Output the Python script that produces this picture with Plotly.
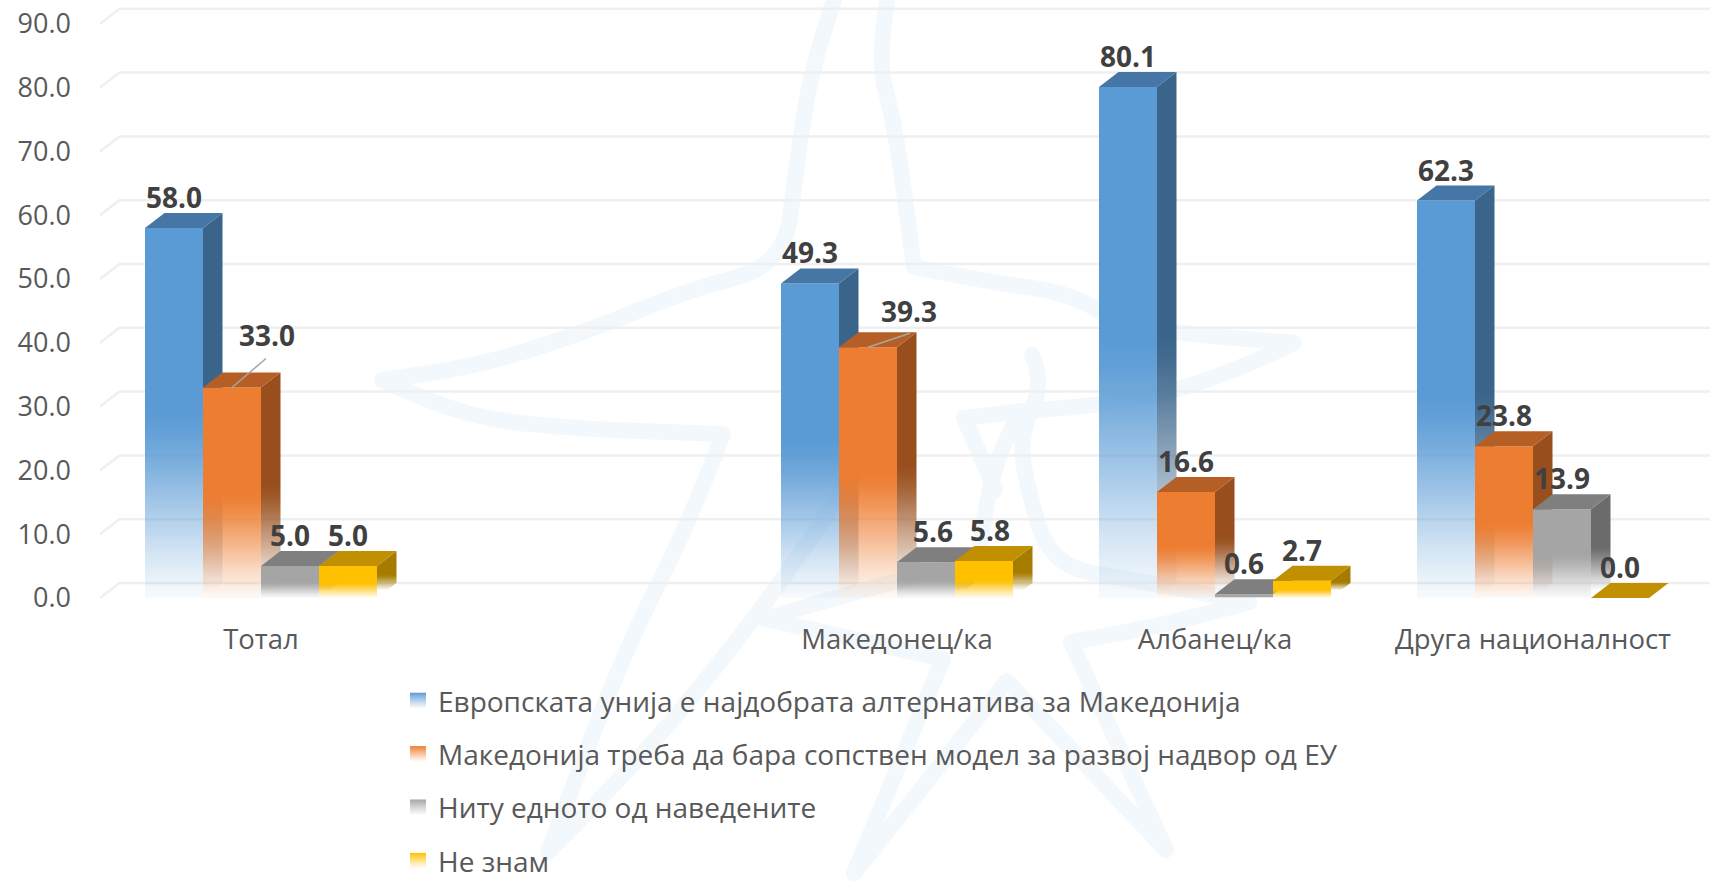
import math
import plotly.graph_objects as go

# ---- data ----
categories = ["Тотал", "", "Македонец/ка", "Албанец/ка", "Друга националност"]
series_names = [
    "Европската унија е најдобрата алтернатива за Македонија",
    "Македонија треба да бара сопствен модел за развој надвор од ЕУ",
    "Ниту едното од наведените",
    "Не знам",
]
eu_best = [58.0, None, 49.3, 80.1, 62.3]
own_model = [33.0, None, 39.3, 16.6, 23.8]
neither = [5.0, None, 5.6, 0.6, 13.9]
dont_know = [5.0, None, 5.8, 2.7, 0.0]
series_values = [eu_best, own_model, neither, dont_know]
y_ticks = [0, 10, 20, 30, 40, 50, 60, 70, 80, 90]

# ---- styles ----
front_rgb = [(91, 155, 213), (237, 125, 49), (165, 165, 165), (255, 192, 0)]
top_rgb = [(69, 118, 166), (181, 94, 37), (127, 127, 127), (192, 144, 0)]
side_rgb = [(58, 100, 138), (152, 79, 29), (107, 107, 107), (165, 124, 0)]
W, H = 1715, 883
LEFT, BOTTOM_PX, RIGHT = 100, 598, 1710
PX_PER_CAT, PX_PER_UNIT = 318.0, 6.38
X_START = -161 / PX_PER_CAT
X_END = X_START + (RIGHT - LEFT) / PX_PER_CAT
Y_END = BOTTOM_PX / PX_PER_UNIT
BAR_W = 58 / PX_PER_CAT
DX, DY = 19.5 / PX_PER_CAT, 15 / PX_PER_UNIT
FADE_PART = 0.5
LABEL_DY = 27 / PX_PER_UNIT
# labels pulled away from their bars: (series, category): (label dx, label dy, leader dx, leader dy) in px
moved = {(1, 0): (35, 48, 34, 29), (1, 2): (41, 32, 42, 14)}
nudged = {(2, 2): 7, (3, 2): 6}
# eased fade so the change from solid colour has no visible edge
FADE_STOPS = [(0, 0.04), (0.25, 0.27), (0.5, 0.55), (0.75, 0.82), (0.9, 0.95), (1, 1.0)]


def rgba(c, a=1.0):
    return f"rgba({c[0]},{c[1]},{c[2]},{a:.3f})"


def fade_scale(c, low=None):
    return [[p, rgba(c, (low if (low is not None and p == 0) else a))] for p, a in FADE_STOPS]


def paper(pt):
    return f"{(pt[0] - LEFT) / (RIGHT - LEFT):.4f},{1 - pt[1] / BOTTOM_PX:.4f}"


def soft_path(pts):
    """Rounded polyline: gentle bends become curves, the star's tips stay corners."""
    out = "M" + paper(pts[0])
    for i in range(1, len(pts) - 1):
        a, b, c = pts[i - 1], pts[i], pts[i + 1]
        t1 = math.atan2(b[1] - a[1], b[0] - a[0])
        t2 = math.atan2(c[1] - b[1], c[0] - b[0])
        turn = abs((t2 - t1 + math.pi) % (2 * math.pi) - math.pi)
        if turn > math.radians(70):
            out += "L" + paper(b)
        else:
            out += "Q" + paper(b) + " " + paper(((b[0] + c[0]) / 2, (b[1] + c[1]) / 2))
    return out + "L" + paper(pts[-1])


fig = go.Figure()

# watermark star outlines (paper space, traced in pixels)
star_a = [(841,-20),(812,62),(796,169),(784,265),(688,290),(586,332),(478,366),(382,380),(425,400),(488,420),(580,429),
          (723,434),(689,524),(626,647),(548,852),(637,764),(752,623),(838,499),(850,470)]
star_b = [(891,-20),(876,56),(895,124),(914,267),(988,282),(1071,293),(1128,329),(1294,343),(1211,383),(1103,405),
          (1033,410),(964,418),(987,470),(995,490)]
star_c = [(1032,355),(1044,383),(1020,434),(1026,484),(1051,566),(1134,580),(1249,602),(1179,622),(1071,642),(1166,850),
          (1007,681),(854,873),(943,659),(765,619),(873,586),(978,563),(988,479),(1020,411)]
shapes = []
for st in (star_a, star_b, star_c):
    shapes.append(dict(type="path", path=soft_path(st), xref="paper", yref="paper", layer="below",
                       line=dict(color="#f3f8fc", width=16)))

# gridlines on back wall, with slanted returns on the side wall
gx, gy = [], []
for t in y_ticks:
    gx += [X_START, X_START + DX, X_END, None]
    gy += [t, t + DY, t + DY, None]
fig.add_trace(go.Scatter(x=gx, y=gy, mode="lines", line=dict(color="#efefef", width=2.5),
                         hoverinfo="skip", showlegend=False, xaxis="x", yaxis="y"))

cats_used = [i for i, c in enumerate(categories) if c]

for s, vals in enumerate(series_values):
    xa, ya = f"x{s + 2}", f"y{s + 2}"
    offset = (s - 2) * BAR_W
    # solid upper part of front faces
    fig.add_trace(go.Bar(x=cats_used, y=[vals[i] * (1 - FADE_PART) for i in cats_used],
                         base=[vals[i] * FADE_PART for i in cats_used],
                         width=BAR_W, offset=offset, marker=dict(color=rgba(front_rgb[s]), line=dict(width=0)),
                         name=series_names[s], showlegend=False, xaxis=xa, yaxis=ya,
                         customdata=[vals[i] for i in cats_used], hovertemplate="%{customdata:.1f}<extra></extra>"))
    for i in cats_used:
        v = vals[i]
        x0 = i + offset
        x1 = x0 + BAR_W
        if v > 0:
            # fading lower part of the front face, lapping slightly over the solid part
            h = v * FADE_PART
            lap = min(0.5, h * 0.1)
            fig.add_trace(go.Scatter(
                x=[x0, x1, x1, x0, x0], y=[0, 0, h + lap, h + lap, 0], fill="toself", mode="lines",
                line=dict(width=0), hoverinfo="skip", showlegend=False, xaxis=xa, yaxis=ya,
                fillgradient=dict(type="vertical", start=0, stop=h, colorscale=fade_scale(front_rgb[s]))))
            # side face
            fig.add_trace(go.Scatter(
                x=[x1, x1 + DX, x1 + DX, x1, x1], y=[v, v + DY, DY, 0, v], fill="toself", mode="lines",
                line=dict(width=0), hoverinfo="skip", showlegend=False, xaxis=xa, yaxis=ya,
                fillgradient=dict(type="vertical", start=DY / 2, stop=h + DY / 2,
                                  colorscale=fade_scale(side_rgb[s], low=0.0))))
        # top face
        fig.add_trace(go.Scatter(
            x=[x0, x0 + DX, x1 + DX, x1, x0], y=[v, v + DY, v + DY, v, v], fill="toself", mode="lines",
            line=dict(width=0), fillcolor=rgba(top_rgb[s]), hoverinfo="skip", showlegend=False,
            xaxis=xa, yaxis=ya))

# data labels and leader lines on top of everything
top_x, top_y = "x5", "y5"
lx, ly = [], []
for s, vals in enumerate(series_values):
    offset = (s - 2) * BAR_W
    tx, ty, tt = [], [], []
    for i in cats_used:
        v = vals[i]
        cx = i + offset + BAR_W / 2
        if (s, i) in moved:
            dpx, dpy, lpx, lpy = moved[(s, i)]
            tx.append(cx + dpx / PX_PER_CAT)
            ty.append(v + dpy / PX_PER_UNIT)
            lx += [cx, cx + lpx / PX_PER_CAT, None]
            ly += [v, v + lpy / PX_PER_UNIT, None]
        else:
            tx.append(cx + nudged.get((s, i), 0) / PX_PER_CAT)
            ty.append(v + LABEL_DY)
        tt.append(f"{v:.1f}")
    fig.add_trace(go.Scatter(x=tx, y=ty, text=tt, mode="text", textposition="middle center",
                             textfont=dict(family="Open Sans", size=28, color="#404040", weight="bold"),
                             hoverinfo="skip", showlegend=False, xaxis=top_x, yaxis=top_y))
fig.add_trace(go.Scatter(x=lx, y=ly, mode="lines", line=dict(color="#a6a6a6", width=1.5),
                         hoverinfo="skip", showlegend=False, xaxis=top_x, yaxis=top_y))

# legend entries with a vertical fade on their swatches
for s, name in enumerate(series_names):
    fig.add_trace(go.Scatter(x=[None], y=[None], mode="markers", name=name, legendgroup=name,
                             marker=dict(symbol="square", size=16, color=rgba(front_rgb[s]),
                                         gradient=dict(type="vertical", color="rgba(255,255,255,0.8)")),
                             xaxis="x", yaxis="y"))

axis_hidden = dict(visible=False, fixedrange=True)
layout = dict(
    width=W, height=H, showlegend=True, barmode="overlay", shapes=shapes,
    paper_bgcolor="white", plot_bgcolor="rgba(0,0,0,0)",
    margin=dict(l=LEFT, r=W - RIGHT, t=0, b=H - BOTTOM_PX, pad=0, autoexpand=False),
    font=dict(family="Open Sans", color="#595959"),
    xaxis=dict(range=[X_START, X_END], tickmode="array", tickvals=cats_used,
               ticktext=[categories[i] for i in cats_used], showgrid=False, zeroline=False, showline=False,
               ticks="", tickfont=dict(size=27.5, color="#595959"), ticklabelstandoff=22, automargin=False),
    yaxis=dict(range=[0, Y_END], tickmode="array", tickvals=y_ticks, ticktext=[f"{t:.1f}" for t in y_ticks],
               showgrid=False, zeroline=False, showline=False, ticks="",
               tickfont=dict(size=27, color="#595959"), ticklabelstandoff=28, automargin=False),
    legend=dict(x=(398 - LEFT) / (RIGHT - LEFT), y=1 - 676 / BOTTOM_PX, xanchor="left", yanchor="top",
                orientation="v", font=dict(size=28, color="#595959"), tracegroupgap=14,
                bgcolor="rgba(0,0,0,0)", borderwidth=0),
)
for k in range(2, 6):
    layout[f"xaxis{k}"] = dict(range=[X_START, X_END], overlaying="x", **axis_hidden)
    layout[f"yaxis{k}"] = dict(range=[0, Y_END], overlaying="y", **axis_hidden)
fig.update_layout(**layout)
page_fix = ("document.body.style.margin='0';document.documentElement.style.overflow='hidden';"
            "document.querySelectorAll('.shapelayer path').forEach(function(p){"
            "p.style.strokeLinejoin='round';p.style.strokeLinecap='round';});")
fig.write_html("out.html", config={"displayModeBar": False}, post_script=page_fix)
